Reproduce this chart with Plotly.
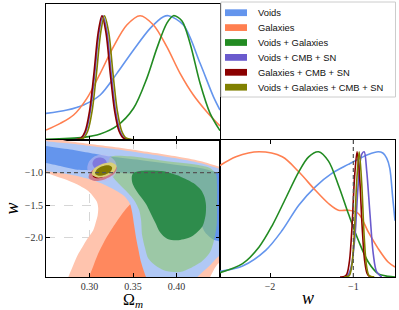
import plotly.graph_objects as go

# ---------------- data ----------------
series_names = ["Voids", "Galaxies", "Voids + Galaxies", "Voids + CMB + SN",
                "Galaxies + CMB + SN", "Voids + Galaxies + CMB + SN"]
series_colors = ["#6495ED", "#FF7F50", "#228B22", "#6A5ACD", "#8B0000", "#808000"]

om_ticks = [0.30, 0.35, 0.40]
w_ticks_left = [-2.0, -1.5, -1.0]
w_ticks_bottom = [-2, -1]
w_fid = -1.0

# 1D marginal of Omega_m
om_voids_x = [0.25, 0.2741, 0.2932, 0.3123, 0.3315, 0.3506, 0.3697, 0.3850, 0.3908, 0.4080, 0.4271, 0.4424, 0.45]
om_voids_p = [0.214, 0.241, 0.282, 0.362, 0.536, 0.724, 0.898, 0.992, 1.0, 0.925, 0.617, 0.349, 0.241]
om_gal_x = [0.25, 0.2664, 0.2817, 0.2970, 0.3123, 0.3276, 0.3429, 0.3582, 0.3735, 0.3888, 0.4041, 0.4194, 0.4347, 0.45]
om_gal_p = [0.080, 0.134, 0.201, 0.335, 0.536, 0.751, 0.925, 1.0, 0.925, 0.751, 0.536, 0.362, 0.228, 0.113]
om_vg_x = [0.25, 0.2932, 0.3123, 0.3315, 0.3506, 0.3659, 0.3774, 0.3888, 0.3965, 0.4061, 0.4156, 0.4271, 0.4386, 0.45]
om_vg_p = [0.005, 0.021, 0.048, 0.113, 0.255, 0.496, 0.737, 0.938, 1.0, 0.960, 0.777, 0.456, 0.214, 0.075]
om_vcs_x = [0.281, 0.291, 0.296, 0.301, 0.306, 0.311, 0.3155, 0.320, 0.325, 0.330, 0.335, 0.340, 0.350]
om_vcs_p = [0.0, 0.016, 0.072, 0.233, 0.535, 0.869, 1.0, 0.869, 0.535, 0.233, 0.072, 0.016, 0.0]
om_gcs_x = [0.280, 0.290, 0.295, 0.300, 0.305, 0.310, 0.3143, 0.319, 0.324, 0.329, 0.334, 0.339, 0.349]
om_gcs_p = [0.0, 0.015, 0.070, 0.230, 0.530, 0.865, 1.0, 0.860, 0.525, 0.228, 0.070, 0.015, 0.0]
om_vgcs_x = [0.283, 0.293, 0.298, 0.303, 0.308, 0.313, 0.3172, 0.322, 0.327, 0.332, 0.337, 0.342, 0.352]
om_vgcs_p = [0.0, 0.016, 0.072, 0.233, 0.535, 0.869, 1.0, 0.869, 0.535, 0.233, 0.072, 0.016, 0.0]

# 1D marginal of w
w_voids_x = [-2.6, -2.329, -2.052, -1.853, -1.655, -1.456, -1.258, -1.060, -0.940, -0.821, -0.702, -0.646, -0.600, -0.563, -0.527, -0.5]
w_voids_p = [0.045, 0.088, 0.213, 0.373, 0.573, 0.720, 0.827, 0.899, 0.941, 0.979, 1.0, 0.99, 0.95, 0.87, 0.63, 0.45]
w_gal_x = [-2.6, -2.409, -2.131, -1.853, -1.655, -1.456, -1.298, -1.179, -1.060, -0.940, -0.821, -0.702, -0.583, -0.5]
w_gal_p = [0.89, 0.960, 1.0, 0.960, 0.840, 0.693, 0.587, 0.533, 0.533, 0.507, 0.360, 0.227, 0.120, 0.080]
w_vg_x = [-2.6, -2.329, -2.131, -1.972, -1.813, -1.655, -1.536, -1.417, -1.298, -1.179, -1.060, -0.940, -0.821, -0.702, -0.583, -0.5]
w_vg_p = [0.035, 0.107, 0.240, 0.413, 0.627, 0.840, 0.960, 1.0, 0.925, 0.733, 0.507, 0.293, 0.120, 0.027, 0.005, 0.0]
w_vcs_x = [-1.12, -1.06, -1.02, -0.98, -0.94, -0.90, -0.87, -0.84, -0.80, -0.76, -0.72, -0.66]
w_vcs_p = [0.0, 0.02, 0.10, 0.33, 0.75, 0.98, 1.0, 0.85, 0.50, 0.18, 0.04, 0.0]
w_gcs_x = [-1.16, -1.105, -1.075, -1.045, -1.015, -0.985, -0.955, -0.925, -0.895, -0.865, -0.835, -0.805, -0.75]
w_gcs_p = [0.0, 0.004, 0.028, 0.135, 0.41, 0.80, 1.0, 0.80, 0.41, 0.135, 0.028, 0.004, 0.0]
w_vgcs_x = [-1.11, -1.05, -1.02, -0.99, -0.96, -0.93, -0.90, -0.87, -0.84, -0.81, -0.75]
w_vgcs_p = [0.0, 0.011, 0.08, 0.325, 0.755, 1.0, 0.755, 0.325, 0.08, 0.011, 0.0]

# 2D credible-region outlines (Omega_m, w)
gal2_om = [0.2435, 0.2779, 0.3008, 0.3238, 0.3502, 0.3754, 0.4007, 0.4270, 0.4500, 0.4672, 0.4672, 0.4500, 0.4385, 0.4328,
           0.2733, 0.2756, 0.2779, 0.2813, 0.2863, 0.2917, 0.2977, 0.3043, 0.3074, 0.3094, 0.3100, 0.3085, 0.3031, 0.2970,
           0.2848, 0.2741, 0.2607, 0.2500, 0.2435]
gal2_w = [-0.469, -0.523, -0.5614, -0.5999, -0.649, -0.6997, -0.7535, -0.8226, -0.9148, -0.9916, -2.420, -2.374, -2.6046, -2.804,
          -2.7275, -2.6046, -2.5278, -2.4202, -2.2666, -2.1437, -2.0101, -1.8826, -1.755, -1.6522, -1.5446, -1.4478, -1.345, -1.2681,
          -1.176, -1.1145, -1.053, -1.0023, -0.9916]
gal1_om = [0.2985, 0.2997, 0.3043, 0.3092, 0.3188, 0.3307, 0.3398, 0.3467, 0.3639, 0.3926, 0.4213]
gal1_w = [-2.7275, -2.6046, -2.4356, -2.2666, -2.0101, -1.7597, -1.5907, -1.4832, -1.2681, -1.3449, -2.7275]

voids2_om = [0.2435, 0.2500, 0.2779, 0.3008, 0.3238, 0.3502, 0.3754, 0.4007, 0.4270, 0.4500, 0.4672, 0.4672, 0.4500, 0.4385,
             0.4236, 0.4156, 0.3697, 0.3651, 0.3593, 0.3559, 0.3536, 0.3513, 0.3490, 0.3467, 0.3398, 0.3249, 0.3066, 0.2859,
             0.2664, 0.2500, 0.2435]
voids2_w = [-0.48, -0.5154, -0.5538, -0.5922, -0.6306, -0.6797, -0.7304, -0.7842, -0.8533, -0.9455, -1.0223, -2.1898, -2.2666, -2.4202,
            -2.6046, -2.7275, -2.7275, -2.6046, -2.3742, -2.1591, -2.0055, -1.8058, -1.6061, -1.4832, -1.3603, -1.2374, -1.1298, -1.0530,
            -1.0069, -0.9808, -0.9762]
voids1_om = [0.2435, 0.2500, 0.2779, 0.3008, 0.3238, 0.3582, 0.3926, 0.4270, 0.4443, 0.4592, 0.4592, 0.4443, 0.4328, 0.4247,
             0.4156, 0.3984, 0.3697, 0.3353, 0.3066, 0.2859, 0.2664, 0.2500, 0.2435]
voids1_w = [-0.5768, -0.5922, -0.6459, -0.6997, -0.7535, -0.8072, -0.8687, -0.9301, -0.9916, -1.0838, -2.0362, -2.0362, -1.9133, -1.6522,
            -1.3449, -1.1606, -1.0530, -0.9993, -0.9685, -0.9562, -0.8994, -0.8533, -0.8380]

vg2_om = [0.3238, 0.3467, 0.3846, 0.4233, 0.4385, 0.4454, 0.4466, 0.4466, 0.4462, 0.4431, 0.4385, 0.4293, 0.4156, 0.4041, 0.3869,
          0.3754, 0.3674, 0.3639, 0.3605, 0.3593, 0.3571, 0.3513, 0.3410, 0.3307, 0.3238, 0.3215]
vg2_w = [-0.7612, -0.7504, -0.8180, -0.8794, -0.9301, -1.0223, -1.1913, -1.4985, -1.8058, -2.0362, -2.2205, -2.3588, -2.4663, -2.5232,
         -2.5047, -2.4202, -2.3127, -2.1591, -1.9594, -1.7290, -1.5754, -1.4217, -1.2681, -1.1298, -1.0069, -0.8841]
vg1_om = [0.3487, 0.3505, 0.3582, 0.3659, 0.3849, 0.4041, 0.4194, 0.4282, 0.4322, 0.4339, 0.4334, 0.4299, 0.4225, 0.4156, 0.4007,
          0.3892, 0.3811, 0.3754, 0.3697, 0.3651, 0.3582, 0.3519, 0.3490]
vg1_w = [-1.0530, -1.0069, -0.9762, -0.9685, -0.9808, -1.0576, -1.1606, -1.2681, -1.3756, -1.4985, -1.6522, -1.8212, -1.9286, -1.9901,
         -2.0362, -2.0132, -1.9133, -1.7597, -1.6061, -1.4832, -1.3603, -1.2374, -1.1452]

vcs2_om = [0.3313, 0.3295, 0.3232, 0.3146, 0.3060, 0.2997, 0.2974, 0.2997, 0.3060, 0.3146, 0.3232, 0.3295]
vcs2_w = [-0.9301, -0.8265, -0.7504, -0.7227, -0.7504, -0.8265, -0.9301, -1.0338, -1.1099, -1.1375, -1.1099, -1.0338]
vcs1_om = [0.3200, 0.3189, 0.3160, 0.3117, 0.3074, 0.3045, 0.3034, 0.3045, 0.3074, 0.3117, 0.3160, 0.3189]
vcs1_w = [-0.8610, -0.8150, -0.7810, -0.7690, -0.7810, -0.8150, -0.8610, -0.9070, -0.9410, -0.9530, -0.9410, -0.9070]
gcs2_om = [0.3314, 0.3286, 0.3179, 0.3056, 0.2990, 0.3017, 0.3124, 0.3247]
gcs2_w = [-0.9209, -1.0146, -1.1006, -1.1268, -1.0776, -0.9839, -0.8979, -0.8718]
gcs1_om = [0.3232, 0.3216, 0.3152, 0.3078, 0.3037, 0.3053, 0.3117, 0.3191]
gcs1_w = [-0.9593, -1.0192, -1.0715, -1.0868, -1.0546, -0.9947, -0.9424, -0.9271]
vgcs2_om = [0.3309, 0.3286, 0.3194, 0.3087, 0.3029, 0.3052, 0.3144, 0.3250]
vgcs2_w = [-0.8933, -0.9793, -1.0546, -1.0761, -1.0292, -0.9424, -0.8672, -0.8456]
vgcs1_om = [0.3260, 0.3245, 0.3180, 0.3107, 0.3066, 0.3082, 0.3146, 0.3219]
vgcs1_w = [-0.9209, -0.9808, -1.0331, -1.0484, -1.0162, -0.9562, -0.9040, -0.8887]

# ---------------- figure ----------------
fig = go.Figure()


def add_fill(xs, ys, color, name):
    fig.add_trace(go.Scatter(
        x=list(xs) + [xs[0]], y=list(ys) + [ys[0]], mode="lines", fill="toself",
        fillcolor=color, line=dict(width=0, shape="spline", smoothing=0.8),
        xaxis="x2", yaxis="y2", name=name, showlegend=False, hoverinfo="skip"))


def add_line(xs, ys, color, xa, ya, name):
    fig.add_trace(go.Scatter(
        x=xs, y=ys, mode="lines", line=dict(color=color, width=1.6, shape="spline", smoothing=0.9),
        xaxis=xa, yaxis=ya, name=name, showlegend=False, hoverinfo="skip"))


# 2D panel
add_fill(gal2_om, gal2_w, "rgb(255,196,174)", "Galaxies 95%")
add_fill(gal1_om, gal1_w, "rgb(255,136,94)", "Galaxies 68%")
add_fill(voids2_om, voids2_w, "rgb(176,200,245)", "Voids 95%")
add_fill(voids1_om, voids1_w, "rgb(100,149,237)", "Voids 68%")
add_fill(vg2_om, vg2_w, "rgba(140,200,100,0.55)", "Voids + Galaxies 95%")
add_fill(vg1_om, vg1_w, "rgb(46,140,76)", "Voids + Galaxies 68%")
add_fill(vcs2_om, vcs2_w, "rgba(195,185,238,0.55)", "Voids + CMB + SN 95%")
add_fill(vcs1_om, vcs1_w, "rgba(120,105,215,0.75)", "Voids + CMB + SN 68%")
add_fill(gcs2_om, gcs2_w, "rgba(210,105,115,0.8)", "Galaxies + CMB + SN 95%")
add_fill(gcs1_om, gcs1_w, "rgb(139,0,0)", "Galaxies + CMB + SN 68%")
add_fill(vgcs2_om, vgcs2_w, "rgb(218,208,120)", "Voids + Galaxies + CMB + SN 95%")
add_fill(vgcs1_om, vgcs1_w, "rgb(128,120,0)", "Voids + Galaxies + CMB + SN 68%")

# 1D Omega_m
om_sets = [(om_voids_x, om_voids_p), (om_gal_x, om_gal_p), (om_vg_x, om_vg_p),
           (om_vcs_x, om_vcs_p), (om_gcs_x, om_gcs_p), (om_vgcs_x, om_vgcs_p)]
for (xs, ps), c, n in zip(om_sets, series_colors, series_names):
    add_line(xs, ps, c, "x", "y", n)

# 1D w
w_sets = [(w_voids_x, w_voids_p), (w_gal_x, w_gal_p), (w_vg_x, w_vg_p),
          (w_vcs_x, w_vcs_p), (w_gcs_x, w_gcs_p), (w_vgcs_x, w_vgcs_p)]
for (xs, ps), c, n in zip(w_sets, series_colors, series_names):
    add_line(xs, ps, c, "x3", "y3", n)

# reference lines at w = -1
fig.add_shape(type="line", xref="x2 domain", x0=0, x1=1, yref="y2", y0=w_fid, y1=w_fid,
              line=dict(color="#555555", width=1.2, dash="4px,3px"), layer="above")
fig.add_shape(type="line", xref="x3", x0=w_fid, x1=w_fid, yref="y3 domain", y0=0, y1=1,
              line=dict(color="#555555", width=1.2, dash="4px,3px"), layer="above")

tickfont = dict(family="Liberation Serif", size=10, color="#333333")
frame = dict(showline=True, linecolor="black", linewidth=1, zeroline=False, automargin=False,
             ticklabeloverflow="allow")
labfont = dict(family="Liberation Serif", size=16, color="black")

XL = [0, 174 / 349]
XR = [174 / 349, 1]
YT = [137 / 273, 1]
YB = [0, 137 / 273]

fig.update_layout(
    width=399, height=310, margin=dict(l=46, r=4, t=4, b=33, autoexpand=False),
    paper_bgcolor="white", plot_bgcolor="white",
    xaxis=dict(domain=XL, anchor="y", range=[0.25, 0.45], tickvals=om_ticks, showticklabels=False,
               ticks="inside", ticklen=4, tickcolor="black", mirror=True, showgrid=False, **frame),
    yaxis=dict(domain=YT, anchor="x", range=[0, 1.094], showticklabels=False, ticks="",
               mirror=True, showgrid=False, **frame),
    xaxis2=dict(domain=XL, anchor="y2", range=[0.25, 0.45], tickvals=om_ticks, tickformat=".2f",
                ticks="inside", ticklen=4, tickcolor="black", mirror="ticks", tickfont=tickfont,
                showgrid=True, gridcolor="#d6d6d6", griddash="dash", gridwidth=0.8, **frame),
    yaxis2=dict(domain=YB, anchor="x2", range=[-2.6, -0.5], tickvals=w_ticks_left, tickformat=".1f",
                ticks="inside", ticklen=4, tickcolor="black", mirror="ticks", tickfont=tickfont,
                showgrid=True, gridcolor="#d6d6d6", griddash="dash", gridwidth=0.8, **frame),
    xaxis3=dict(domain=XR, anchor="y3", range=[-2.6, -0.5], tickvals=w_ticks_bottom, tickformat="d",
                ticks="inside", ticklen=4, tickcolor="black", mirror="ticks", tickfont=tickfont,
                showgrid=False, **frame),
    yaxis3=dict(domain=YB, anchor="x3", range=[0, 1.094], showticklabels=False, ticks="",
                mirror=True, showgrid=False, **frame),
    showlegend=False,
)

fig.add_annotation(text="Ω<sub><i>m</i></sub>", xref="x2 domain", yref="y2 domain", x=0.5, y=-0.175,
                   xanchor="center", yanchor="middle", showarrow=False, font=labfont)
fig.add_annotation(text="<i>w</i>", xref="x3 domain", yref="y3 domain", x=0.5, y=-0.155,
                   xanchor="center", yanchor="middle", showarrow=False,
                   font=dict(family="Liberation Serif", size=18, color="black"))
fig.add_annotation(text="<i>w</i>", xref="paper", yref="y2 domain", x=-0.100, y=0.5,
                   xanchor="center", yanchor="middle", textangle=-90, showarrow=False,
                   font=dict(family="Liberation Serif", size=18, color="black"))

# manual legend box (top-right corner)
fig.add_shape(type="rect", xref="paper", yref="paper", x0=0.5014, x1=1.0014, y0=0.6593, y1=1.0073,
              line=dict(color="#cccccc", width=1), fillcolor="white", layer="above")
leg_y = [0.9681, 0.9136, 0.8590, 0.8044, 0.7498, 0.6952]
for name, col, yy in zip(series_names, series_colors, leg_y):
    fig.add_shape(type="rect", xref="paper", yref="paper", x0=0.5129, x1=0.5759, y0=yy - 0.0124, y1=yy + 0.0124,
                  line=dict(width=0), fillcolor=col, layer="above")
    fig.add_annotation(text=name, xref="paper", yref="paper", x=0.6017, y=yy, xanchor="left", yanchor="middle",
                       showarrow=False, font=dict(family="Liberation Sans", size=9.4, color="#111111"))

fig.write_html("out.html", config={"displayModeBar": False},
               post_script="document.body.style.margin='0';document.body.style.padding='0';")
